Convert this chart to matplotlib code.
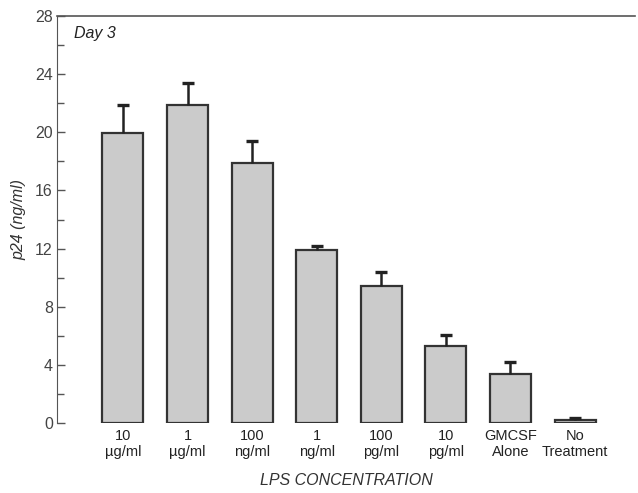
import matplotlib
matplotlib.use("Agg")
import matplotlib.pyplot as plt
import numpy as np

categories = ["10\n\u00b5g/ml", "1\n\u00b5g/ml", "100\nng/ml", "1\nng/ml",
              "100\npg/ml", "10\npg/ml", "GMCSF\nAlone", "No\nTreatment"]
values = [19.95, 21.9, 17.9, 11.9, 9.4, 5.3, 3.4, 0.2]
errors = [1.95, 1.5, 1.5, 0.25, 1.0, 0.75, 0.8, 0.12]
yticks = [0, 4, 8, 12, 16, 20, 24, 28]

plt.rcParams['font.family'] = ['Liberation Sans', 'DejaVu Sans']

fig = plt.figure(figsize=(6.38, 4.93), dpi=100)
ax = fig.add_axes([57/638, 1-423/493, (635-57)/638, (423-16)/493])

x = np.arange(len(categories))
vals = np.array(values)
errs = np.array(errors)
ax.bar(x, vals, width=0.635, color="#cbcbcb", edgecolor="#333333", linewidth=1.6, zorder=2)
ax.errorbar(x, vals, yerr=[np.zeros(len(errs)), errs], fmt='none',
            ecolor="#222222", elinewidth=1.8, capsize=0, zorder=3)
ax.plot(x, vals + errs, linestyle='none', marker='_', markersize=9,
        markeredgewidth=2.4, color="#222222", zorder=3)

ax.set_xlim(-1.022, 7.929)
ax.set_ylim(0, 28)
ax.set_yticks(yticks)
ax.set_yticks(np.arange(0, 29, 2), minor=True)
ax.set_xticks(x)
ax.set_xticklabels(categories, fontsize=10.5, linespacing=1.25, color="#222222")
ax.tick_params(axis='x', length=0, pad=4)
ax.tick_params(axis='y', which='major', direction='in', length=6, width=1, labelsize=11.5,
               colors="#555555", labelcolor="#444444", pad=3)
ax.tick_params(axis='y', which='minor', direction='in', length=5, width=1, colors="#555555")

for s in ['right', 'bottom']:
    ax.spines[s].set_visible(False)
ax.spines['left'].set_color("#555555")
ax.spines['top'].set_color("#555555")
ax.spines['top'].set_linewidth(1.2)

ax.text(0.03, 0.975, "Day 3", transform=ax.transAxes, fontsize=11.5, style='italic',
        va='top', ha='left', color="#222222")
ax.set_ylabel("p24 (ng/ml)", fontsize=11.5, style='italic', color="#333333", labelpad=6)
ax.set_xlabel("LPS CONCENTRATION", fontsize=11.5, style='italic', color="#333333", labelpad=10)

fig.savefig("out.png", dpi=100)
